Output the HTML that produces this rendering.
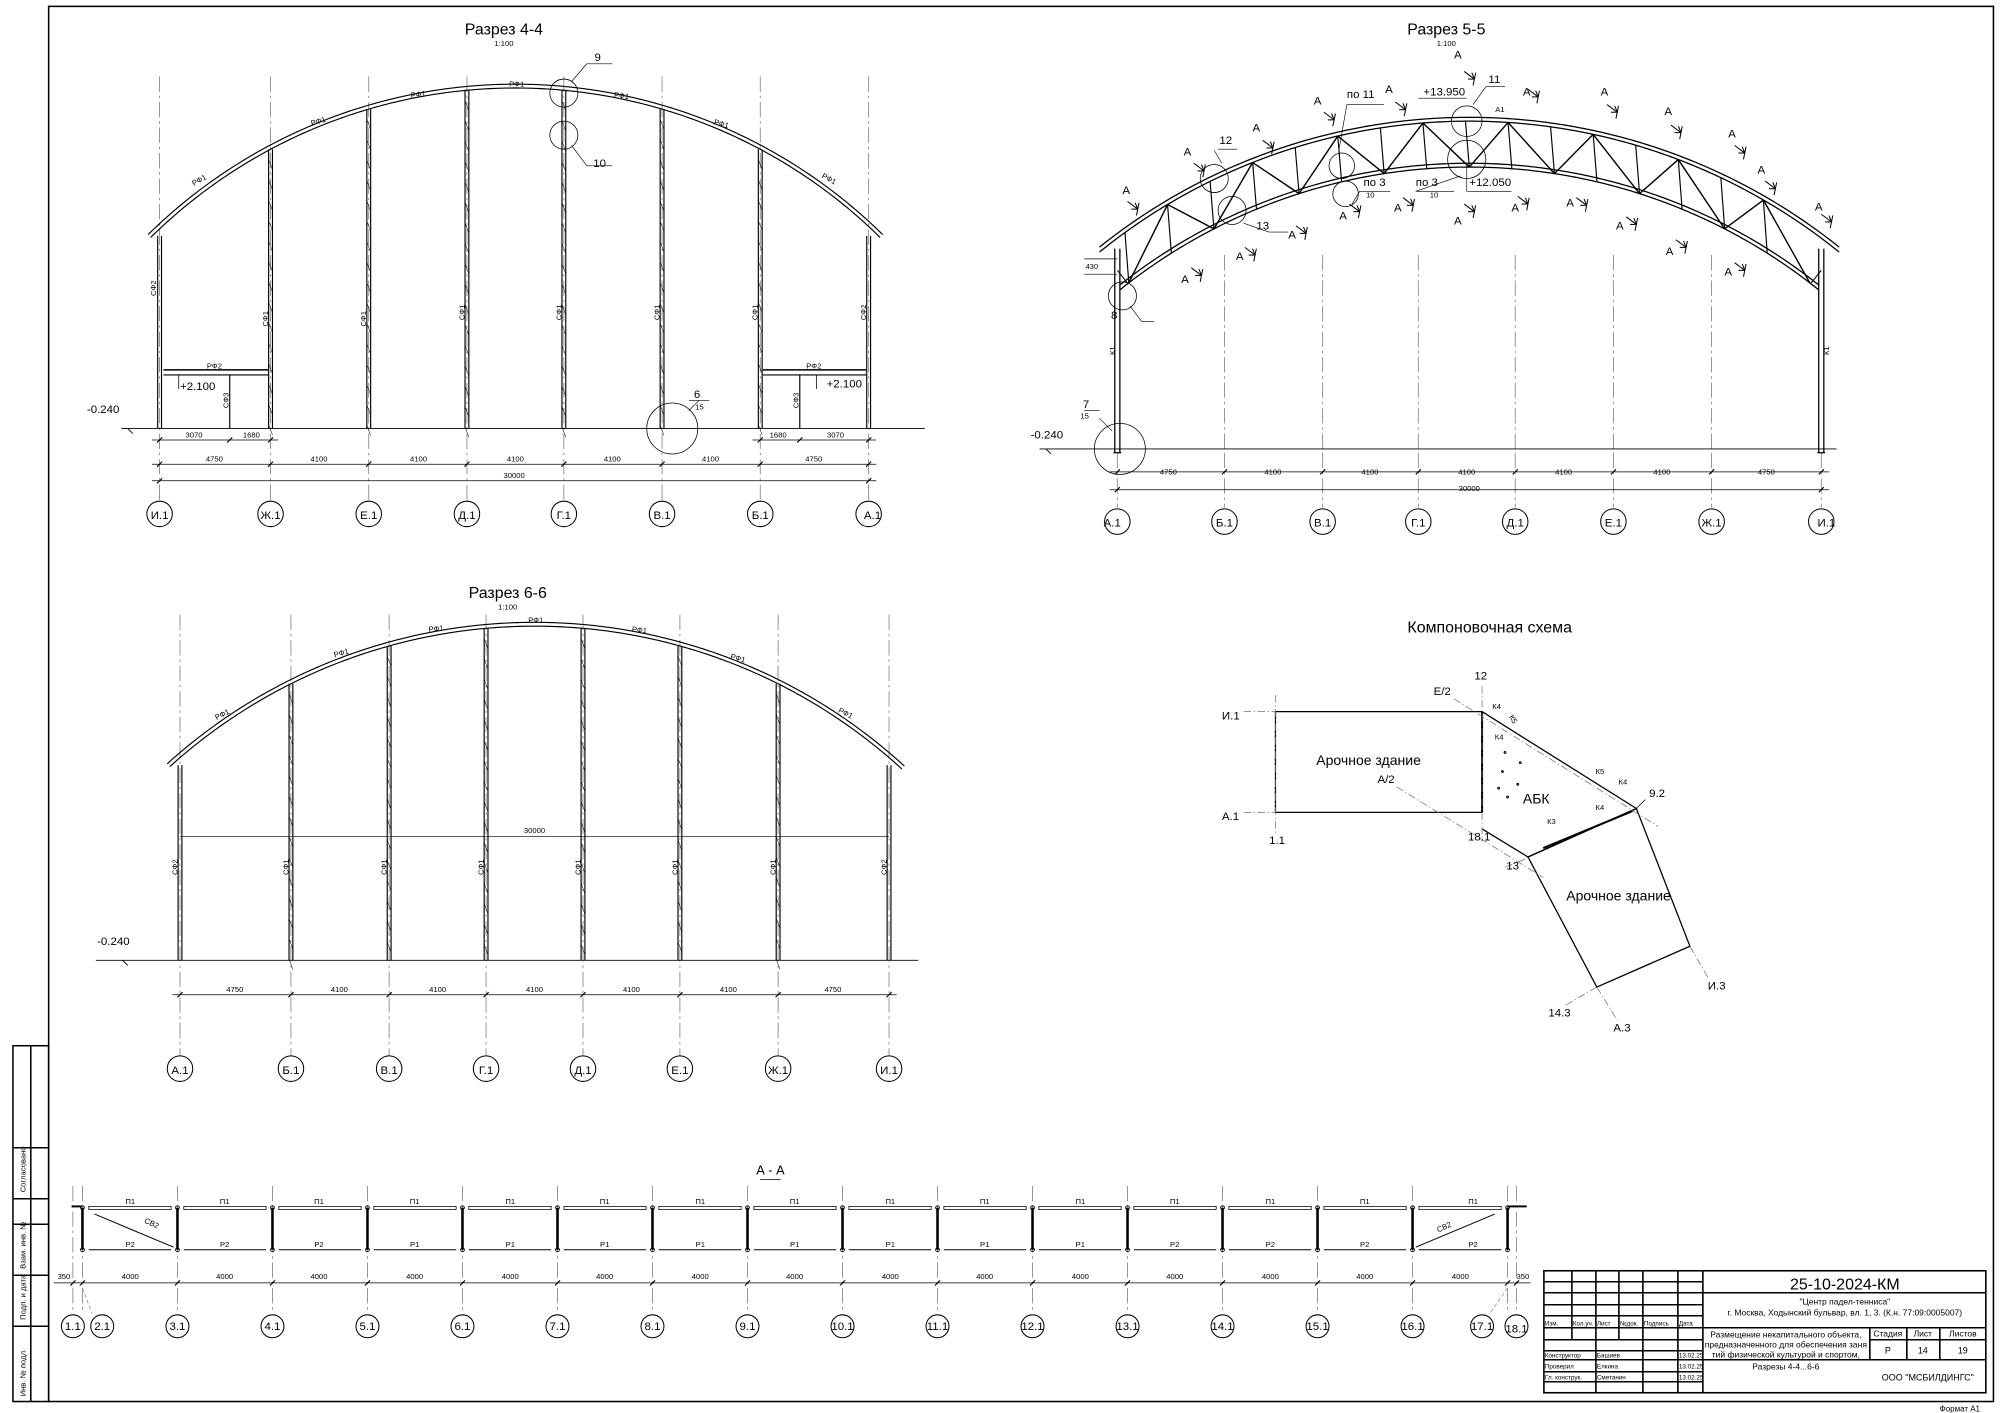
<!DOCTYPE html>
<html><head><meta charset="utf-8"><style>
html,body{margin:0;padding:0;background:#fff;}
svg{display:block;}
text{font-family:"Liberation Sans Narrow","Liberation Sans",sans-serif;fill:#000;}
.s{font-size:6px;}
.m{font-size:9px;}
.b{font-size:10px;}
.t{font-size:12.5px;}
</style></head><body>
<svg id="sv" width="2000" height="1413" viewBox="0 0 1568 1108" xmlns="http://www.w3.org/2000/svg">
<rect x="0" y="0" width="1568" height="1108" fill="#fff"/>
<g id="g" fill="none" stroke="#000" stroke-width="0.8"></g>
<g fill="none" stroke="#000" stroke-width="1.2">
<rect x="38" y="5" width="1525" height="1094"/>
<rect x="10" y="820" width="28" height="279"/>
<line x1="24" y1="820" x2="24" y2="1099"/>
<line x1="10" y1="900" x2="38" y2="900"/><line x1="10" y1="940" x2="38" y2="940"/>
<line x1="10" y1="960" x2="38" y2="960"/><line x1="10" y1="1000" x2="38" y2="1000"/>
<line x1="10" y1="1040" x2="38" y2="1040"/>
</g>
<g class="s">
<text transform="translate(20,935) rotate(-90)">Согласовано</text>
<text transform="translate(20,995) rotate(-90)">Взам. инв. №</text>
<text transform="translate(20,1035) rotate(-90)">Подп. и дата</text>
<text transform="translate(20,1095) rotate(-90)">Инв. № подл.</text>
</g>

<g text-anchor="middle">
<text x="395" y="27" class="t">Разрез 4-4</text><text x="395" y="36" class="s">1:100</text>
<text x="1134" y="27" class="t">Разрез 5-5</text><text x="1134" y="36" class="s">1:100</text>
<text x="398" y="469" class="t">Разрез 6-6</text><text x="398" y="478" class="s">1:100</text>
<text x="1168" y="496" class="t">Компоновочная схема</text>
<text x="604" y="921" class="b">А - А</text>
</g>
<g class="s" text-anchor="middle">
<text transform="translate(122,226) rotate(-90)">СФ2</text>
<text transform="translate(210,250) rotate(-90)">СФ1</text>
<text transform="translate(287,250) rotate(-90)">СФ1</text>
<text transform="translate(364,245) rotate(-90)">СФ1</text>
<text transform="translate(440,245) rotate(-90)">СФ1</text>
<text transform="translate(517,245) rotate(-90)">СФ1</text>
<text transform="translate(594,245) rotate(-90)">СФ1</text>
<text transform="translate(679,245) rotate(-90)">СФ2</text>
<text transform="translate(179,314) rotate(-90)">СФ3</text>
<text transform="translate(626,314) rotate(-90)">СФ3</text>
<text transform="translate(157,143) rotate(-30)">РФ1</text>
<text transform="translate(250,97) rotate(-17)">РФ1</text>
<text transform="translate(328,76) rotate(-8)">РФ1</text>
<text x="405" y="68">РФ1</text>
<text transform="translate(487,77) rotate(7)">РФ1</text>
<text transform="translate(565,99) rotate(16)">РФ1</text>
<text transform="translate(649,142) rotate(28)">РФ1</text>
<text x="168" y="289">РФ2</text><text x="638" y="289">РФ2</text>
<text x="152" y="343">3070</text><text x="197" y="343">1680</text><text x="610" y="343">1680</text><text x="655" y="343">3070</text>
<text x="168" y="362">4750</text><text x="250" y="362">4100</text><text x="328" y="362">4100</text><text x="404" y="362">4100</text><text x="480" y="362">4100</text><text x="557" y="362">4100</text><text x="638" y="362">4750</text>
<text x="403" y="375">30000</text>
<text x="916" y="372">4750</text><text x="998" y="372">4100</text><text x="1074" y="372">4100</text><text x="1150" y="372">4100</text><text x="1226" y="372">4100</text><text x="1303" y="372">4100</text><text x="1385" y="372">4750</text>
<text x="1152" y="385">30000</text>
<text transform="translate(874,275) rotate(-90)">К1</text>
<text transform="translate(1434,275) rotate(-90)">К1</text>
<text x="856" y="211">430</text>
<text x="1176" y="88">А1</text>
<text transform="translate(139,680) rotate(-90)">СФ2</text>
<text transform="translate(226,680) rotate(-90)">СФ1</text>
<text transform="translate(303,680) rotate(-90)">СФ1</text>
<text transform="translate(379,680) rotate(-90)">СФ1</text>
<text transform="translate(455,680) rotate(-90)">СФ1</text>
<text transform="translate(531,680) rotate(-90)">СФ1</text>
<text transform="translate(608,680) rotate(-90)">СФ1</text>
<text transform="translate(695,680) rotate(-90)">СФ2</text>
<text transform="translate(175,562) rotate(-27)">РФ1</text>
<text transform="translate(268,514) rotate(-15)">РФ1</text>
<text transform="translate(342,495) rotate(-7)">РФ1</text>
<text x="420" y="488">РФ1</text>
<text transform="translate(501,496) rotate(7)">РФ1</text>
<text transform="translate(578,518) rotate(15)">РФ1</text>
<text transform="translate(662,561) rotate(27)">РФ1</text>
<text x="419" y="653">30000</text>
<text x="184" y="778">4750</text><text x="266" y="778">4100</text><text x="343" y="778">4100</text><text x="419" y="778">4100</text><text x="495" y="778">4100</text><text x="571" y="778">4100</text><text x="653" y="778">4750</text>
</g>
<g class="m">
<text x="141" y="306">+2.100</text><text x="648" y="304">+2.100</text>
<text x="68" y="324">-0.240</text><text x="808" y="344">-0.240</text><text x="76" y="741">-0.240</text>
<text x="466" y="48">9</text><text x="465" y="131">10</text><text x="544" y="312">6</text><text class="s" x="545" y="321">15</text>
<text x="849" y="320">7</text><text class="s" x="847" y="328">15</text><text x="871" y="250">8</text>
<text x="956" y="113">12</text><text x="985" y="180">13</text><text x="1167" y="65">11</text>
<text x="1056" y="77">по 11</text><text x="1069" y="146">по 3</text><text class="s" x="1071" y="155">10</text>
<text x="1110" y="146">по 3</text><text class="s" x="1121" y="155">10</text>
<text x="1116" y="75">+13.950</text><text x="1152" y="146">+12.050</text>
</g>
<g class="m">
<text x="880" y="152">A</text><text x="928" y="122">A</text><text x="982" y="103">A</text><text x="1030" y="82">A</text>
<text x="1086" y="73">A</text><text x="1140" y="46">A</text><text x="1194" y="75">A</text><text x="1255" y="75">A</text>
<text x="1305" y="90">A</text><text x="1355" y="108">A</text><text x="1378" y="136">A</text><text x="1423" y="165">A</text>
<text x="926" y="222">A</text><text x="969" y="204">A</text><text x="1010" y="187">A</text><text x="1050" y="172">A</text>
<text x="1093" y="166">A</text><text x="1140" y="176">A</text><text x="1185" y="166">A</text><text x="1228" y="162">A</text>
<text x="1267" y="180">A</text><text x="1306" y="200">A</text><text x="1352" y="216">A</text>
</g>
<g class="m" text-anchor="middle">
<text x="125" y="407">И.1</text><text x="212" y="407">Ж.1</text><text x="289" y="407">Е.1</text><text x="366" y="407">Д.1</text><text x="442" y="407">Г.1</text><text x="519" y="407">В.1</text><text x="596" y="407">Б.1</text><text x="684" y="407">А.1</text>
<text x="872" y="413">А.1</text><text x="960" y="413">Б.1</text><text x="1037" y="413">В.1</text><text x="1112" y="413">Г.1</text><text x="1188" y="413">Д.1</text><text x="1265" y="413">Е.1</text><text x="1342" y="413">Ж.1</text><text x="1432" y="413">И.1</text>
<text x="141" y="842">А.1</text><text x="228" y="842">Б.1</text><text x="305" y="842">В.1</text><text x="381" y="842">Г.1</text><text x="457" y="842">Д.1</text><text x="533" y="842">Е.1</text><text x="610" y="842">Ж.1</text><text x="697" y="842">И.1</text>
<text x="57" y="1043">1.1</text><text x="80" y="1043">2.1</text><text x="139" y="1043">3.1</text><text x="213.5" y="1043">4.1</text><text x="288" y="1043">5.1</text><text x="362.5" y="1043">6.1</text><text x="437" y="1043">7.1</text><text x="511.5" y="1043">8.1</text><text x="586" y="1043">9.1</text><text x="660.5" y="1043">10.1</text><text x="735" y="1043">11.1</text><text x="809.5" y="1043">12.1</text><text x="884" y="1043">13.1</text><text x="958.5" y="1043">14.1</text><text x="1033" y="1043">15.1</text><text x="1107.5" y="1043">16.1</text><text x="1162" y="1043">17.1</text><text x="1189" y="1045">18.1</text>
</g>
<g class="s" text-anchor="middle">
<text x="102" y="944">П1</text><text x="176" y="944">П1</text><text x="250" y="944">П1</text><text x="325" y="944">П1</text><text x="400" y="944">П1</text><text x="474" y="944">П1</text><text x="549" y="944">П1</text><text x="623" y="944">П1</text><text x="698" y="944">П1</text><text x="772" y="944">П1</text><text x="847" y="944">П1</text><text x="921" y="944">П1</text><text x="996" y="944">П1</text><text x="1070" y="944">П1</text><text x="1155" y="944">П1</text>
<text x="102" y="978">Р2</text><text x="176" y="978">Р2</text><text x="250" y="978">Р2</text><text x="325" y="978">Р1</text><text x="400" y="978">Р1</text><text x="474" y="978">Р1</text><text x="549" y="978">Р1</text><text x="623" y="978">Р1</text><text x="698" y="978">Р1</text><text x="772" y="978">Р1</text><text x="847" y="978">Р1</text><text x="921" y="978">Р2</text><text x="996" y="978">Р2</text><text x="1070" y="978">Р2</text><text x="1155" y="978">Р2</text>
<text x="102" y="1003">4000</text><text x="176" y="1003">4000</text><text x="250" y="1003">4000</text><text x="325" y="1003">4000</text><text x="400" y="1003">4000</text><text x="474" y="1003">4000</text><text x="549" y="1003">4000</text><text x="623" y="1003">4000</text><text x="698" y="1003">4000</text><text x="772" y="1003">4000</text><text x="847" y="1003">4000</text><text x="921" y="1003">4000</text><text x="996" y="1003">4000</text><text x="1070" y="1003">4000</text><text x="1145" y="1003">4000</text>
<text x="50" y="1003">350</text><text x="1194" y="1003">350</text>
<text transform="translate(118,961) rotate(25)">СВ2</text><text transform="translate(1133,964) rotate(-25)">СВ2</text>
</g>
<g class="m">
<text x="958" y="564">И.1</text><text x="958" y="643">А.1</text><text x="995" y="662">1.1</text>
<text x="1156" y="533">12</text><text x="1124" y="545">Е/2</text><text x="1080" y="614">А/2</text>
<text x="1151" y="659">18.1</text><text x="1181" y="682">13</text><text x="1293" y="625">9.2</text>
<text x="1339" y="776">И.3</text><text x="1214" y="797">14.3</text><text x="1265" y="809">А.3</text>
<text x="1032" y="600" font-size="11">Арочное здание</text>
<text x="1228" y="706" font-size="11">Арочное здание</text>
<text x="1194" y="630" font-size="11">АБК</text>
</g>
<g class="s">
<text x="1170" y="556">К4</text><text x="1172" y="580">К4</text><text transform="translate(1183,562) rotate(60)">К5</text>
<text x="1251" y="607">К5</text><text x="1269" y="615">К4</text><text x="1251" y="635">К4</text><text x="1213" y="646">К3</text>
</g>

<g transform="scale(0.784)">
<g fill="none" stroke="#000" stroke-width="1.6">
<rect x="1544" y="1271" width="442" height="122"/>
<line x1="1572" y1="1271" x2="1572" y2="1340"/><line x1="1596" y1="1271" x2="1596" y2="1393"/>
<line x1="1619" y1="1271" x2="1619" y2="1340"/><line x1="1643" y1="1271" x2="1643" y2="1393"/>
<line x1="1678" y1="1271" x2="1678" y2="1393"/><line x1="1703" y1="1271" x2="1703" y2="1393"/>
<line x1="1544" y1="1282" x2="1703" y2="1282"/><line x1="1544" y1="1293" x2="1986" y2="1293"/>
<line x1="1544" y1="1305" x2="1703" y2="1305"/><line x1="1544" y1="1316" x2="1703" y2="1316"/>
<line x1="1544" y1="1328" x2="1986" y2="1328"/><line x1="1544" y1="1340" x2="1703" y2="1340"/>
<line x1="1544" y1="1351" x2="1703" y2="1351"/><line x1="1544" y1="1360" x2="1986" y2="1360"/>
<line x1="1544" y1="1372" x2="1703" y2="1372"/><line x1="1544" y1="1382" x2="1703" y2="1382"/>
<line x1="1870" y1="1328" x2="1870" y2="1360"/><line x1="1907" y1="1328" x2="1907" y2="1360"/>
<line x1="1940" y1="1328" x2="1940" y2="1360"/><line x1="1870" y1="1340" x2="1986" y2="1340"/>
</g>
<g font-size="6.3">
<text x="1545" y="1326">Изм.</text><text x="1573" y="1326">Кол.уч.</text><text x="1597" y="1326">Лист</text><text x="1620" y="1326">№док.</text><text x="1644" y="1326">Подпись</text><text x="1679" y="1326">Дата</text>
<text x="1545" y="1358">Конструктор</text><text x="1597" y="1358">Башиев</text><text x="1679" y="1358">13.02.25</text>
<text x="1545" y="1369">Проверил</text><text x="1597" y="1369">Елкина</text><text x="1679" y="1369">13.02.25</text>
<text x="1545" y="1380">Гл. конструк.</text><text x="1597" y="1380">Сметанин</text><text x="1679" y="1380">13.02.25</text>
</g>
<g text-anchor="middle">
<text x="1845" y="1290" font-size="16">25-10-2024-КМ</text>
<text x="1845" y="1305" font-size="8.5">"Центр падел-тенниса"</text>
<text x="1845" y="1316" font-size="8.5">г. Москва, Ходынский бульвар, вл. 1, 3. (К.н. 77:09:0005007)</text>
<text x="1786" y="1338" font-size="8.5">Размещение некапитального объекта,</text>
<text x="1786" y="1348" font-size="8.5">предназначенного для обеспечения заня</text>
<text x="1786" y="1358" font-size="8.5">тий физической культурой и спортом,</text>
<text x="1786" y="1370" font-size="8.5">Разрезы 4-4...6-6</text>
<text x="1888" y="1337" font-size="8.5">Стадия</text><text x="1923" y="1337" font-size="8.5">Лист</text><text x="1963" y="1337" font-size="8.5">Листов</text>
<text x="1888" y="1354" font-size="9">Р</text><text x="1923" y="1354" font-size="9">14</text><text x="1963" y="1354" font-size="9">19</text>
<text x="1928" y="1381" font-size="9">ООО "МСБИЛДИНГС"</text>
<text x="1960" y="1412" font-size="8">Формат А1</text>
</g>
</g>
</svg>
<script>
var g=document.getElementById('g'),NS='http://www.w3.org/2000/svg';
function el(t,a){var e=document.createElementNS(NS,t);for(var k in a)e.setAttribute(k,a[k]);g.appendChild(e);return e;}
function L(x1,y1,x2,y2,w,c,d){var e=el('line',{x1:x1,y1:y1,x2:x2,y2:y2});if(w)e.setAttribute('stroke-width',w);if(c)e.setAttribute('stroke',c);if(d)e.setAttribute('stroke-dasharray',d);return e;}
function C(x,y,r,w){return el('circle',{cx:x,cy:y,r:r,'stroke-width':w||0.8});}
function P(d,w){return el('path',{d:d,'stroke-width':w||0.8});}
var DA='12 3 2 3';
function ay(cx,cy,R,x){return cy-Math.sqrt(R*R-(x-cx)*(x-cx));}
function arc(cx,cy,R,x1,x2,w,off){off=off||0;var d='';for(var x=x1;x<=x2+0.01;x+=2){d+=(d?'L':'M')+x+' '+(ay(cx,cy,R+off,x))+' ';}P(d,w);}
function tick(x,y){L(x-2,y+2,x+2,y-2,0.9);}
function dim(xs,y){L(xs[0]-6,y,xs[xs.length-1]+6,y,0.6);xs.forEach(function(x){tick(x,y);});}

(function(){var cx=404,cy=476.6,R=410.6;var xs=[125,212,289,366,442,519,596,681];
xs.forEach(function(x){L(x,60,x,395,0.6,'#777',DA);C(x,403,10,0.8);});
arc(cx,cy,R,116,692,0.9,0);arc(cx,cy,R,118,690,0.9,-3);
xs.forEach(function(x,i){var t=ay(cx,cy,R-3,x);if(i==0||i==7)t=185;L(x-1.5,t,x-1.5,336,0.9);L(x+1.5,t,x+1.5,336,0.9);
 if(i>0&&i<7){for(var y=t+8;y<336;y+=16)L(x-1.5,y,x+1.5,y+8,0.4);}});
L(95,336,725,336,0.7);L(100,336,104,340,0.7);
L(128,290,210,290,1.2);L(128,294,210,294,0.8);L(598,290,679,290,1.2);L(598,294,679,294,0.8);
L(180,294,180,336,0.9);L(627,294,627,336,0.9);
L(140,294,140,305,0.6);L(640,294,640,305,0.6);
dim([125,180,212],345);dim([596,627,681],345);dim(xs,364);dim([125,681],377);
C(442,73,11,0.6);C(442,106,11,0.6);L(448,64,460,50,0.5);L(460,50,480,50,0.5);L(448,114,460,130,0.5);L(460,130,480,130,0.5);
C(527,336,20,0.6);L(540,322,548,314,0.5);L(540,314,556,314,0.5);
})();

(function(){var xs=[876,960,1037,1112,1188,1265,1342,1428];
xs.forEach(function(x,i){if(i>0&&i<7)L(x,200,x,352,0.6,'#777',DA);L(x,355,x,398,0.6,'#777',DA);C(x,409,10,0.8);});
var ocx=1152,ocy=556,oR=464,icx=1152,icy=569,iR=441;
arc(ocx,ocy,oR,862,1442,1,0);arc(ocx,ocy,oR,862,1442,1,-3);
arc(icx,icy,iR,878,1426,1,0);arc(icx,icy,iR,878,1426,1,-3);
var n=16,pts=[];for(var i=0;i<=n;i++){pts.push(885+(1419-885)*i/n);}
for(var i=0;i<n;i++){var xa=pts[i],xb=pts[i+1];
 var yi=ay(icx,icy,iR-3,xa),yo=ay(ocx,ocy,oR-3,xa-3);
 var yi2=ay(icx,icy,iR-3,xb),yo2=ay(ocx,ocy,oR-3,xb-3);
 if(i%2==0){L(xa,yi,xb-3,yo2,1.1);}else{L(xa-3,yo,xb,yi2,1.1);}
 L(xa,yi,xa-3,yo,0.9);}
[876,1428].forEach(function(x){L(x-2,195,x-2,355,1);L(x+2,195,x+2,355,1);L(x-3,355,x+3,355,1);});
L(876,212,884,222,0.8);L(1428,212,1420,222,0.8);
L(815,352,1440,352,0.7);L(820,352,824,356,0.7);
dim(xs,370);dim([876,1428],384);
L(850,203,876,203,0.5);L(850,215,876,215,0.5);
C(878,352,20,0.6);C(880,232,11,0.6);C(952,140,11,0.6);C(966,165,11,0.6);C(1052,130,10,0.6);C(1055,152,10,0.6);C(1150,95,12,0.6);C(1150,125,15,0.6);
L(862,328,872,338,0.5);L(850,322,862,322,0.5);L(886,240,895,252,0.5);L(895,252,905,252,0.5);
L(952,118,958,128,0.5);L(955,117,970,117,0.5);L(975,175,995,182,0.5);L(995,182,1010,182,0.5);
L(1155,82,1165,68,0.5);L(1165,68,1180,68,0.5);L(1050,116,1056,82,0.5);L(1056,82,1085,82,0.5);
L(1060,160,1066,150,0.5);L(1066,150,1090,150,0.5);L(1145,138,1110,150,0.5);L(1110,150,1140,150,0.5);
L(1112,77,1150,77,0.5);L(1150,130,1150,150,0.5);L(1150,150,1185,150,0.5);
var ar=[[884,158],[936,128],[990,110],[1038,88],[1094,80],[1148,56],[1198,70],[1260,82],[1310,98],[1360,114],[1384,142],[1428,168],[934,210],[976,194],[1016,177],[1058,160],[1100,155],[1148,160],[1190,154],[1236,155],[1275,170],[1314,188],[1360,206]];
ar.forEach(function(a){var x=a[0],y=a[1];L(x,y,x+8,y+6,0.8);L(x+8,y+6,x+3,y+6,0.8);L(x+8,y+6,x+6,y+1,0.8);L(x+9,y+1,x+7,y+11,0.8);});
})();

(function(){var cx=419,cy=917.4,R=429.4;var xs=[141,228,305,381,457,533,610,697];
xs.forEach(function(x){L(x,482,x,828,0.6,'#777',DA);C(x,838,10,0.8);});
arc(cx,cy,R,131,709,0.9,0);arc(cx,cy,R,133,707,0.9,-3);
xs.forEach(function(x,i){var t=ay(cx,cy,R-3,x);if(i==0||i==7)t=600;L(x-1.5,t,x-1.5,753,0.9);L(x+1.5,t,x+1.5,753,0.9);
 if(i>0&&i<7){for(var y=t+8;y<753;y+=16)L(x-1.5,y,x+1.5,y+8,0.4);}});
L(141,656,697,656,0.5);
L(75,753,720,753,0.7);L(96,753,100,757,0.7);
dim(xs,780);
})();

(function(){var xs=[57,64.5];for(var i=1;i<=15;i++)xs.push(64.5+74.5*i);xs.push(1189);
xs.forEach(function(x){L(x,930,x,1028,0.6,'#777',DA);});
C(57,1040,9,0.8);C(80,1040,9,0.8);L(64.5,1010,72,1030,0.5,'#777','3 2');
for(var i=2;i<xs.length-2;i++)C(xs[i],1040,9,0.8);
C(1162,1040,9,0.8);C(1189,1040,9,0.8);L(1182,1010,1168,1030,0.5,'#777','3 2');
for(var i=1;i<16;i++){var a=xs[i],b=xs[i+1];
 P('M'+(a+5)+' 946 L'+(b-5)+' 946 L'+(b-5)+' 948.5 L'+(a+5)+' 948.5 Z',0.6);
 L(a+5,980,b-5,980,0.8);}
for(var i=1;i<=16;i++){L(xs[i],947,xs[i],980,2);C(xs[i],947,1.5,0.7);C(xs[i],980,1.5,0.7);}
L(56,946,64,946,1.5);L(1189,946,1197,946,1.5);L(1182,946,1189,946,1.5);
L(74,952,136,978,0.8);L(1110,978,1172,952,0.8);
L(42,1006,1200,1006,0.6);xs.forEach(function(x){tick(x,1006);});
L(596,925,612,925,0.6);
})();

(function(){
P('M1000 558 L1162 558 L1162 637 L1000 637 Z',1);
P('M1162 558 L1283 634 L1198 672 L1162 650',1);
P('M1198 672 L1283 634 L1325 742 L1252 774 Z',1);
L(1162,558,1162,637,1.6);L(1210,665,1280,636,1.6);
L(975,558,1000,558,0.6,'#777','6 2 1 2');L(975,637,1000,637,0.6,'#777','6 2 1 2');
L(1000,545,1000,655,0.6,'#777','6 2 1 2');L(1162,538,1162,660,0.6,'#777','6 2 1 2');
L(1140,548,1300,648,0.6,'#777','6 2 1 2');L(1095,617,1210,688,0.6,'#777','6 2 1 2');
L(1180,680,1200,672,0.6,'#777','6 2 1 2');L(1290,627,1283,634,0.6);
L(1325,742,1340,768,0.6,'#777','6 2 1 2');L(1252,774,1228,788,0.6,'#777','6 2 1 2');L(1252,774,1268,800,0.6,'#777','6 2 1 2');
[[1180,590],[1178,605],[1190,615],[1182,625],[1192,598],[1175,618]].forEach(function(p){C(p[0],p[1],0.7,0.8);});
})();
</script>
</body></html>
